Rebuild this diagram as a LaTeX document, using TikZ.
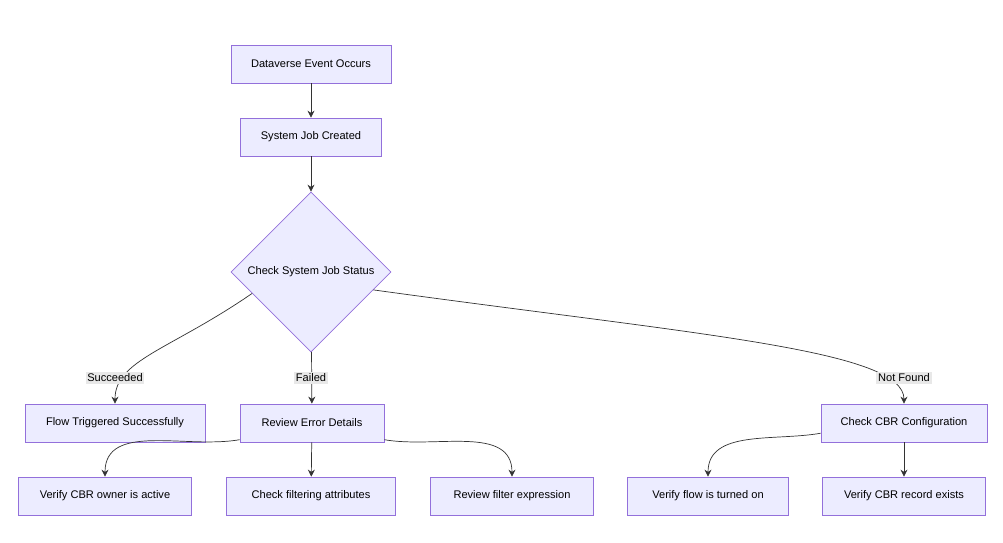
\documentclass[tikz,border=0pt]{standalone}
\usepackage{fontspec}
\setmainfont{Liberation Sans}
\usetikzlibrary{shapes.geometric,arrows.meta}
\definecolor{boxfill}{HTML}{ECECFF}
\definecolor{boxline}{HTML}{9370DB}
\definecolor{edgeline}{HTML}{333333}
\definecolor{labelbg}{HTML}{E8E8E8}
\begin{document}
\begin{tikzpicture}[x=0.02cm,y=-0.02cm,
    box/.style={shape=rectangle,draw=boxline,fill=boxfill,minimum height=0.76cm,font=\fontsize{6.3}{8}\selectfont},
    lbl/.style={fill=labelbg,inner sep=1pt,font=\fontsize{6.3}{8}\selectfont},
    arr/.style={draw=edgeline,-{Stealth[length=4pt,width=4pt]}}]

        \useasboundingbox (0,0) rectangle (1003,543);

        \node[box,minimum width=3.2cm] (event) at (311,64) {Dataverse Event Occurs};
        \node[box,minimum width=2.82cm] (job) at (311,137) {System Job Created};
        \node[shape=diamond,draw=boxline,fill=boxfill,minimum width=3.2cm,minimum height=3.2cm,inner sep=0pt,font=\fontsize{6.3}{8}\selectfont] (status) at (311,272) {Check System Job Status};
        \node[box,minimum width=3.6cm] (flow) at (115,423) {Flow Triggered Successfully};
        \node[box,minimum width=2.88cm] (review) at (312,423) {Review Error Details};
        \node[box,minimum width=3.32cm] (config) at (904,423) {Check CBR Configuration};
        \node[box,minimum width=3.46cm] (owner) at (105,496) {Verify CBR owner is active};
        \node[box,minimum width=3.38cm] (attrs) at (311,496) {Check filtering attributes};
        \node[box,minimum width=3.26cm] (expr) at (512,496) {Review filter expression};
        \node[box,minimum width=3.22cm] (turned) at (708,496) {Verify flow is turned on};
        \node[box,minimum width=3.26cm] (record) at (904,496) {Verify CBR record exists};

        \path[arr] (event) -- (job);
        \path[arr] (job) -- (status);
        \path[arr] (status.200) .. controls (170,350) and (115,360) .. (flow.north);
        \path[arr] (status) -- (review);
        \path[arr] (status.-16) .. controls (700,335) and (904,350) .. (config.north);
        \path[arr] (review.193) to[out=190,in=90] (owner.north);
        \path[arr] (review) -- (attrs);
        \path[arr] (review.-13) to[out=-10,in=90] (expr.north);
        \path[arr] (config.187) to[out=190,in=90] (turned.north);
        \path[arr] (config) -- (record);

        \node[lbl] (succ) at (115,378) {Succeeded};
        \node[lbl] (fail) at (311,378) {Failed};
        \node[lbl] (notfound) at (904,378) {Not Found};

    \end{tikzpicture}
\end{document}
